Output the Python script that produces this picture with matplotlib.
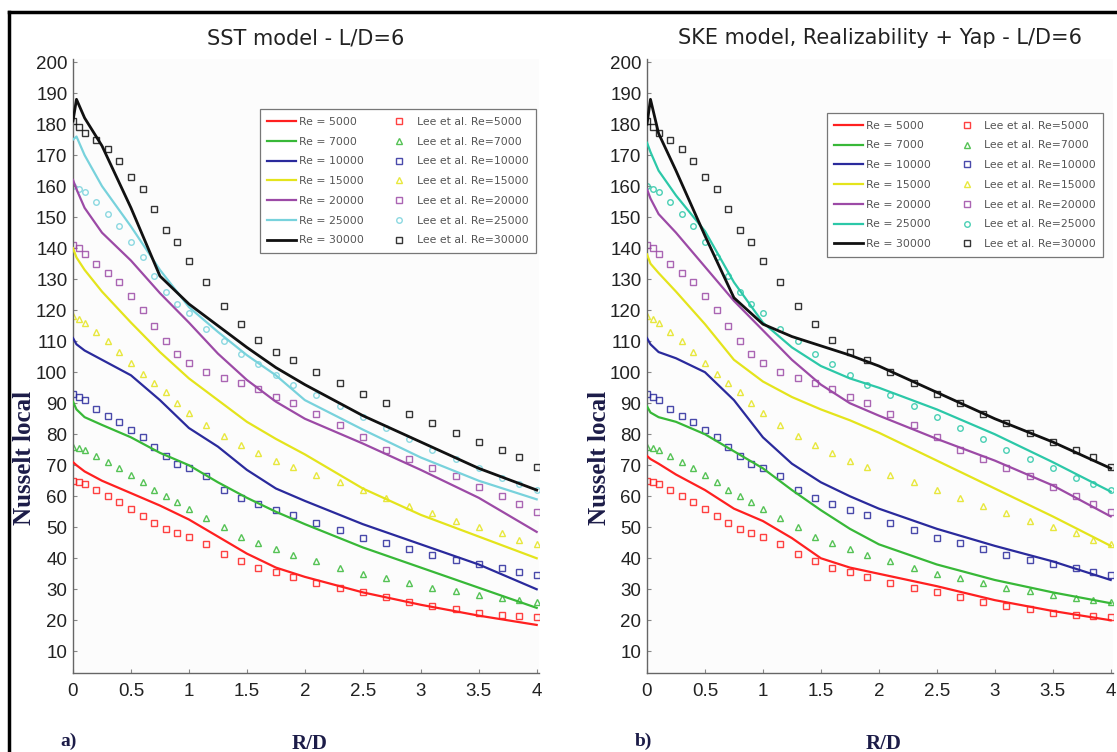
import matplotlib
matplotlib.use("Agg")
import matplotlib.pyplot as plt
from matplotlib.lines import Line2D

RE_LIST = [5000, 7000, 10000, 15000, 20000, 25000, 30000]

# CFD profiles
LINE_R = [0, 0.03, 0.1, 0.25, 0.5, 0.75, 1.0, 1.25, 1.5, 1.75, 2.0, 2.5, 3.0, 3.5, 4.0]

SST_5000 = [71, 70, 68, 65, 61, 57, 52.5, 47, 41.5, 37, 34, 29, 25, 21.5, 18.5]
SST_7000 = [90.5, 88, 85.5, 83, 79, 74, 70, 64.5, 59.5, 55, 51, 43.5, 37, 30.5, 24]
SST_10000 = [111, 109, 107, 104, 99, 91, 82, 76, 68.5, 62.5, 58.5, 51, 44.5, 38, 30]
SST_15000 = [140, 137, 133, 126, 116, 106.5, 98, 91, 84, 78.5, 73.5, 62.5, 54, 47, 40]
SST_20000 = [162, 159, 153, 145, 136, 125.5, 116, 106, 97.5, 90.5, 85, 77, 68.5, 59.5, 48.5]
SST_25000 = [175, 176, 170, 160, 147, 133, 121, 113, 105.5, 99, 91, 81.5, 72.5, 65, 59]
SST_30000 = [181, 188, 182, 173, 153, 131, 122, 115, 108, 101.5, 96, 86, 77.5, 69, 62]

SKE_5000 = [73, 72, 70.5, 67, 62, 56, 52, 46.5, 40, 37, 35, 31, 26.5, 23, 20]
SKE_7000 = [89, 87, 85.5, 84, 80, 74.5, 69, 62, 55.5, 49.5, 44.5, 38, 33, 29, 25.5]
SKE_10000 = [111, 109, 106.5, 104.5, 100, 91, 79, 70.5, 64.5, 60, 56, 49.5, 44, 39, 33]
SKE_15000 = [138, 135, 132, 126, 115.5, 104, 97, 92, 88, 84.5, 80.5, 71.5, 62.5, 53.5, 44]
SKE_20000 = [159, 156, 151, 145, 134, 123, 113.5, 104, 96, 90, 86, 78.5, 71.5, 63.5, 53.5]
SKE_25000 = [174, 171, 165, 157, 145.5, 129, 116, 108, 102, 98, 95, 88, 80, 71, 61.5]
SKE_30000 = [180, 188, 177, 165, 144, 124, 115.5, 111.5, 108.5, 105.5, 102, 93.5, 85, 77.5, 69]

# Lee et al. measurements
LEE_R = [0, 0.05, 0.1, 0.2, 0.3, 0.4, 0.5, 0.6, 0.7, 0.8, 0.9, 1.0, 1.15, 1.3, 1.45,
         1.6, 1.75, 1.9, 2.1, 2.3, 2.5, 2.7, 2.9, 3.1, 3.3, 3.5, 3.7, 3.85, 4.0]

LEE_5000 = [65, 64.5, 64, 62, 60, 58, 56, 53.5, 51.5, 49.5, 48, 47, 44.5, 41.5, 39,
            37, 35.5, 34, 32, 30.5, 29, 27.5, 26, 24.5, 23.5, 22.5, 21.8, 21.3, 21]
LEE_7000 = [76, 75.5, 75, 73, 71, 69, 67, 64.5, 62, 60, 58, 56, 53, 50, 47,
            45, 43, 41, 39, 37, 35, 33.5, 32, 30.5, 29.3, 28.2, 27.2, 26.5, 26]
LEE_10000 = [93, 92, 91, 88, 86, 84, 81.5, 79, 76, 73, 70.5, 69, 66.5, 62, 59.5,
             57.5, 55.5, 54, 51.5, 49, 46.5, 45, 43, 41, 39.5, 38, 36.8, 35.5, 34.5]
LEE_15000 = [118, 117, 116, 113, 110, 106.5, 103, 99.5, 96.5, 93.5, 90, 87, 83, 79.5, 76.5,
             74, 71.5, 69.5, 67, 64.5, 62, 59.5, 57, 54.5, 52, 50, 48, 46, 44.5]
LEE_20000 = [141, 140, 138, 135, 132, 129, 124.5, 120, 115, 110, 106, 103, 100, 98, 96.5,
             94.5, 92, 90, 86.5, 83, 79, 75, 72, 69, 66.5, 63, 60, 57.5, 55]
LEE_25000 = [160, 159, 158, 155, 151, 147, 142, 137, 131, 126, 122, 119, 114, 110, 106,
             102.5, 99, 96, 92.5, 89, 85.5, 82, 78.5, 75, 72, 69, 66, 64, 62]
LEE_30000 = [181, 179, 177, 175, 172, 168, 163, 159, 152.5, 146, 142, 136, 129, 121.5, 115.5,
             110.5, 106.5, 104, 100, 96.5, 93, 90, 86.5, 83.5, 80.5, 77.5, 75, 72.5, 69.5]

SST = [SST_5000, SST_7000, SST_10000, SST_15000, SST_20000, SST_25000, SST_30000]
SKE = [SKE_5000, SKE_7000, SKE_10000, SKE_15000, SKE_20000, SKE_25000, SKE_30000]
LEE = [LEE_5000, LEE_7000, LEE_10000, LEE_15000, LEE_20000, LEE_25000, LEE_30000]

Y_TICKS = list(range(10, 201, 10))
X_TICKS = [0, 0.5, 1, 1.5, 2, 2.5, 3, 3.5, 4]
X_LABELS = ["0", "0.5", "1", "1.5", "2", "2.5", "3", "3.5", "4"]

COLORS_SST = ["#ff2020", "#38b838", "#2a2a9c", "#e4e41c", "#9c4aa6", "#78d2dc", "#111111"]
COLORS_SKE = ["#ff2020", "#38b838", "#2a2a9c", "#e4e41c", "#9c4aa6", "#2cc8a8", "#111111"]
MARKERS = ["s", "^", "s", "^", "s", "o", "s"]

W, H = 1117, 752
fig = plt.figure(figsize=(W / 100, H / 100), dpi=100)
fig.patch.set_facecolor("white")

TICK_FONT = ["Liberation Sans", "DejaVu Sans"]
SERIF = ["Liberation Serif", "DejaVu Serif"]


def draw_panel(left_px, curves, colors, title, tag, legend_anchor):
    ax = fig.add_axes([left_px / W, 1 - 673 / H, 466 / W, 614 / H])
    ax.set_facecolor("#fcfcfc")
    for re, ys, lee, col, mk in zip(RE_LIST, curves, LEE, colors, MARKERS):
        lw = 2.0 if re == 30000 else 1.6
        ax.plot(LINE_R, ys, color=col, lw=lw, label=f"Re = {re}", zorder=3)
        ax.plot(LEE_R, lee, ls="none", marker=mk, ms=4, mew=1.0, mfc="none",
                mec=col, alpha=0.85, label=f"Lee et al. Re={re}", zorder=2)
    ax.set_xlim(0, 4.02)
    ax.set_ylim(3, 201)
    ax.set_xticks(X_TICKS)
    ax.set_xticklabels(X_LABELS)
    ax.set_yticks(Y_TICKS)
    for side in ("top", "right"):
        ax.spines[side].set_visible(False)
    for side in ("left", "bottom"):
        ax.spines[side].set_color("#666666")
        ax.spines[side].set_linewidth(1.0)
    ax.tick_params(direction="in", length=3, width=0.8, color="#888888",
                   labelsize=13.5, pad=4)
    for lab in ax.get_xticklabels() + ax.get_yticklabels():
        lab.set_family(TICK_FONT)
        lab.set_color("#222222")
    ax.tick_params(axis="x", pad=7)

    cx = (left_px + 233) / W
    fig.text(cx, 1 - 38 / H, title, ha="center", va="center",
             fontsize=15, family="DejaVu Sans", color="#222222")
    fig.text((left_px - 48) / W, 1 - 458 / H, "Nusselt local", rotation=90,
             ha="center", va="center", fontsize=18, fontweight="bold",
             family=SERIF, color="#1c1c48")
    fig.text((left_px + 237) / W, 1 - 734 / H, "R/D", ha="center", va="top",
             fontsize=15, fontweight="bold", family=SERIF, color="#1c1c48")
    fig.text((left_px - 4) / W, 1 - 741 / H, tag, ha="center", va="center",
             fontsize=14, fontweight="bold", family=SERIF, color="#1c1c48")

    handles, labels = ax.get_legend_handles_labels()
    order = list(range(0, len(handles), 2)) + list(range(1, len(handles), 2))
    leg = ax.legend([handles[i] for i in order], [labels[i] for i in order],
                    ncol=2, loc="upper left", bbox_to_anchor=legend_anchor,
                    fontsize=7.8, labelspacing=0.9, handlelength=2.6,
                    handletextpad=0.3, columnspacing=2.0, borderpad=0.7,
                    fancybox=False, framealpha=1.0, edgecolor="#777777",
                    borderaxespad=0)
    leg.get_frame().set_linewidth(0.9)
    for t in leg.get_texts():
        t.set_color("#555555")
    return ax


draw_panel(73, SST, COLORS_SST, "SST model - L/D=6", "a)", (0.401, 0.918))
draw_panel(647, SKE, COLORS_SKE, "SKE model, Realizability + Yap - L/D=6", "b)",
           (0.386, 0.912))

# outer frame: left and top edges
fig.add_artist(Line2D([9 / W, 9 / W], [0, 1 - 12 / H], color="black", lw=2.5))
fig.add_artist(Line2D([9 / W, 1], [1 - 12 / H, 1 - 12 / H], color="black", lw=2.5))

fig.savefig("out.png", dpi=100)
